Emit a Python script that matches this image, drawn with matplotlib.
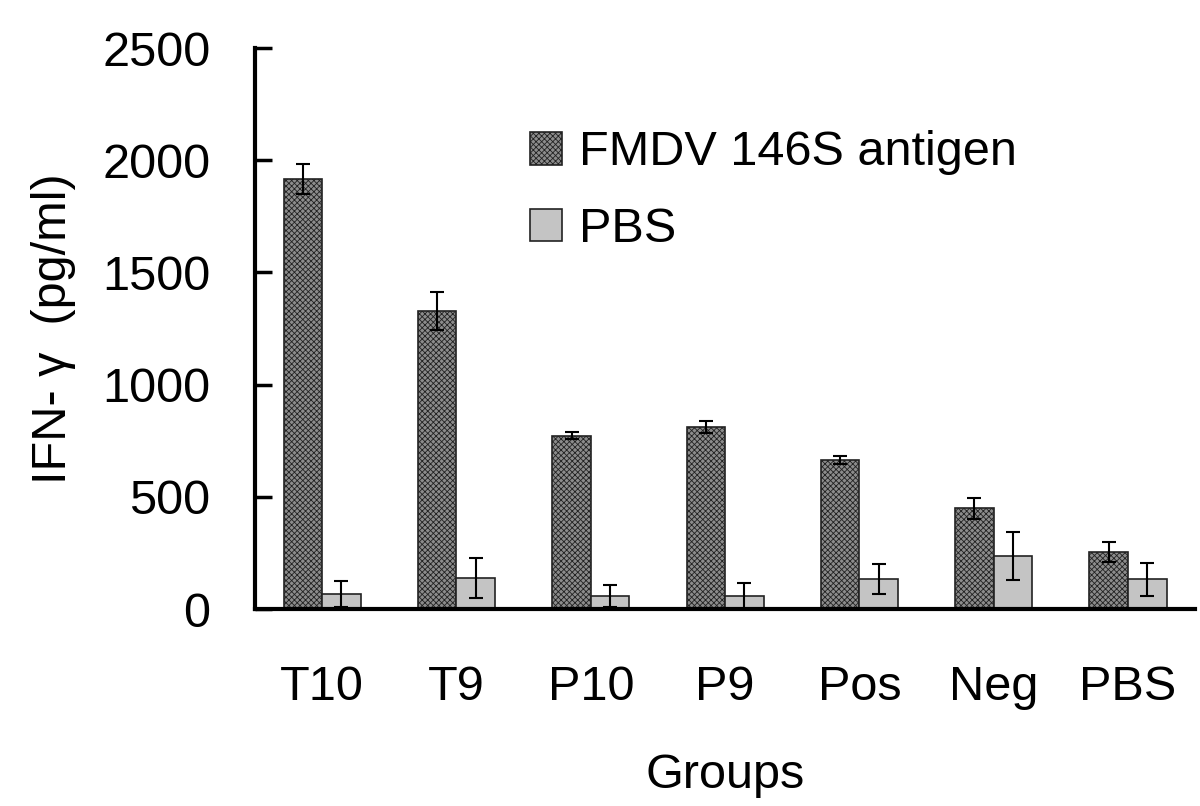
import numpy as np
import matplotlib.pyplot as plt
from matplotlib.patches import Patch

plt.rcParams['font.family'] = ['Liberation Sans', 'DejaVu Sans']
plt.rcParams['hatch.linewidth'] = 0.6

# data
groups = ["T10", "T9", "P10", "P9", "Pos", "Neg", "PBS"]
fmdv = [1916, 1329, 772, 811, 665, 449, 253]
fmdv_err = [67, 84, 16, 27, 17, 46, 44]
pbs = [67, 138, 59, 59, 134, 236, 132]
pbs_err = [58, 89, 48, 57, 66, 108, 73]

fig = plt.figure(figsize=(12, 8.06), dpi=100)
ax = fig.add_axes([0.2125, 0.2444, 0.7835, 0.696])

x = np.arange(len(groups))
w = 0.287
ax.bar(x - w/2, fmdv, w, color='#8c8c8c', edgecolor='#222222', hatch='xxxxxx', linewidth=1.2)
ax.bar(x + w/2, pbs, w, color='#c4c4c4', edgecolor='#222222', linewidth=1.2)
ax.errorbar(x - w/2, fmdv, yerr=fmdv_err, fmt='none', ecolor='black', elinewidth=1.5, capsize=5, capthick=1.5)
ax.errorbar(x + w/2, pbs, yerr=pbs_err, fmt='none', ecolor='black', elinewidth=1.5, capsize=5, capthick=1.5)

ax.set_xlim(-0.5, 6.5)
ax.set_ylim(0, 2500)
ax.set_yticks([0, 500, 1000, 1500, 2000, 2500])
ax.set_xticks(x)
ax.set_xticklabels(groups)
ax.tick_params(axis='y', direction='in', length=12, width=2.5, labelsize=35, pad=32)
ax.tick_params(axis='x', length=0, labelsize=35, pad=40)
for s in ['top', 'right']:
    ax.spines[s].set_visible(False)
for s in ['left', 'bottom']:
    ax.spines[s].set_linewidth(3)

ax.set_xlabel("Groups", fontsize=35, labelpad=31)
ax.set_ylabel("IFN- γ  (pg/ml)", fontsize=35, labelpad=19)

handles = [Patch(facecolor='#8c8c8c', edgecolor='#222222', hatch='xxxxxx', linewidth=1.2),
           Patch(facecolor='#c4c4c4', edgecolor='#222222', linewidth=1.2)]
ax.legend(handles, ["FMDV 146S antigen", "PBS"], loc='upper left', bbox_to_anchor=(0.2455, 0.931),
          frameon=False, fontsize=35, handlelength=0.66, handleheight=0.66, handletextpad=0.35,
          labelspacing=0.65)

fig.savefig("out.png", dpi=100)
